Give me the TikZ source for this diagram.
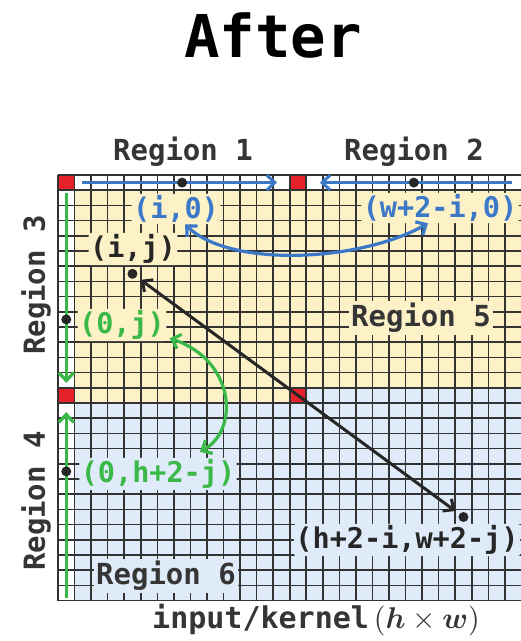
\documentclass[tikz,border=0pt]{standalone}
\usepackage{amsmath}
\usepackage{bm}
\usepackage{graphicx}
\usepackage{fontspec}
\setmonofont{DejaVu Sans Mono}
\usetikzlibrary{arrows.meta}
\definecolor{celyellow}{HTML}{FDF1C7}
\definecolor{celblue}{HTML}{DFEBF8}
\definecolor{celred}{HTML}{E62129}
\definecolor{arrblue}{HTML}{3B78C8}
\definecolor{arrgreen}{HTML}{3AB848}
\definecolor{textgray}{HTML}{353535}

\begin{document}
\begin{tikzpicture}[
    x=1pt, y=-1pt,
    >={Straight Barb[length=8pt,width=15pt]},
    every node/.style={font=\ttfamily\bfseries},
    gridline/.style={draw=black!80, line width=1.6pt},
    regionlbl/.style={
      font=\ttfamily\bfseries\fontsize{29}{30}\selectfont,
      text=textgray, inner sep=2pt
    },
    ptlbl/.style={
      font=\ttfamily\bfseries\fontsize{28.5}{30}\selectfont,
      inner sep=1.5pt, rounded corners=2pt
    },
    dot/.style={circle, fill=black!85, inner sep=0pt, minimum size=10pt},
    blarr/.style={->, line width=3pt, color=arrblue},
    grarr/.style={->, line width=3.2pt, color=arrgreen},
    karr/.style={<->, line width=3pt, color=black!85},
    bcurve/.style={<->, line width=3.2pt, color=arrblue},
    gcurve/.style={<->, line width=3.2pt, color=arrgreen},
  ]
  \useasboundingbox[fill=white] (0,0) rectangle (521,641);

  % ============ Title ============
  \node[font=\ttfamily\bfseries\fontsize{59}{60}\selectfont] (title) at (273,35) {After};

  % ============ Grid of cells ============
  \begin{scope}[shift={(58,175)}, x=16.55pt, y=-15.2pt]
    \fill[celyellow] (1,1) rectangle (28,14);
    \fill[celyellow] (1,14) rectangle (14,15);
    \fill[celblue] (15,14) rectangle (28,15);
    \fill[celblue] (1,15) rectangle (28,28);
    \foreach \c/\r in {0/0, 14/0, 0/14, 14/14}
      \fill[celred] (\c,\r) rectangle ++(1,1);
    \foreach \k in {0,...,28} {
      \draw[gridline] (\k,0) -- (\k,28);
      \draw[gridline] (0,\k) -- (28,\k);
    }

    % arrow ends in row 0 and column 0
    \coordinate (r1a) at (1.45,0.5);
    \coordinate (r1b) at (13.23,0.5);
    \coordinate (r2a) at (27.43,0.5);
    \coordinate (r2b) at (15.83,0.5);
    \coordinate (r3a) at (0.5,1.18);
    \coordinate (r3b) at (0.5,13.68);
    \coordinate (r4a) at (0.5,27.8);
    \coordinate (r4b) at (0.5,15.6);

    \draw[blarr] (r1a) -- (r1b);
    \draw[blarr] (r2a) -- (r2b);
    \draw[grarr] (r3a) -- (r3b);
    \draw[grarr] (r4a) -- (r4b);

    % points
    \node[dot] (di0) at (7.5,0.5) {};
    \node[dot] (dwi0) at (21.5,0.5) {};
    \node[dot] (dij) at (4.5,6.5) {};
    \node[dot] (dhw) at (24.5,22.5) {};
    \node[dot] (d0j) at (0.5,9.5) {};
    \node[dot] (d0h) at (0.5,19.5) {};
  \end{scope}

  % ============ Region labels ============
  \node[regionlbl] (reg1) at (183,152) {Region 1};
  \node[regionlbl] (reg2) at (414,152) {Region 2};
  \node[regionlbl, rotate=90] (reg3) at (36,285) {Region 3};
  \node[regionlbl, rotate=90] (reg4) at (36,501) {Region 4};
  \node[regionlbl, fill=celyellow] (reg5) at (421,318) {Region 5};
  \node[regionlbl, fill=celblue] (reg6) at (166,576) {Region 6};

  % ============ Point labels ============
  \node[ptlbl, fill=celyellow, text=arrblue] (li0) at (176,209) {(i,0)};
  \node[ptlbl, fill=celyellow, text=arrblue] (lwi0) at (440,208) {(w+2-i,0)};
  \node[ptlbl, fill=celyellow, text=black!85] (lij) at (133,249) {(i,j)};
  \node[ptlbl, fill=celyellow, text=arrgreen] (l0j) at (122,325) {(0,j)};
  \node[ptlbl, fill=celblue, text=arrgreen] (l0h) at (158,474) {(0,h+2-j)};
  \node[ptlbl, fill=celblue, text=black!85] (lhw) at (407,540) {(h+2-i,w+2-j)};

  % ============ Axis label ============
  \node[font=\ttfamily\bfseries\fontsize{30}{32}\selectfont, text=textgray] (axis)
    at (316,620) {input/kernel\,{\fontsize{10}{12}\selectfont\scalebox{3}{$(\bm{h}\times\bm{w})$}}};

  % ============ Arrows ============
  % (i,j) <-> (h+2-i,w+2-j)
  \draw[karr, shorten <=5pt, shorten >=5pt] (dij) -- (dhw);
  % (i,0) <-> (w+2-i,0)
  \draw[bcurve] ([xshift=9pt]li0.south) .. controls (230,268) and (360,262) ..
    ([xshift=-12pt]lwi0.south);
  % (0,j) <-> (0,h+2-j)
  \draw[gcurve] ([xshift=3pt,yshift=3pt]l0j.south east) .. controls (235,360) and (240,430) ..
    ([xshift=42pt,yshift=6pt]l0h.north);

\end{tikzpicture}
\end{document}
